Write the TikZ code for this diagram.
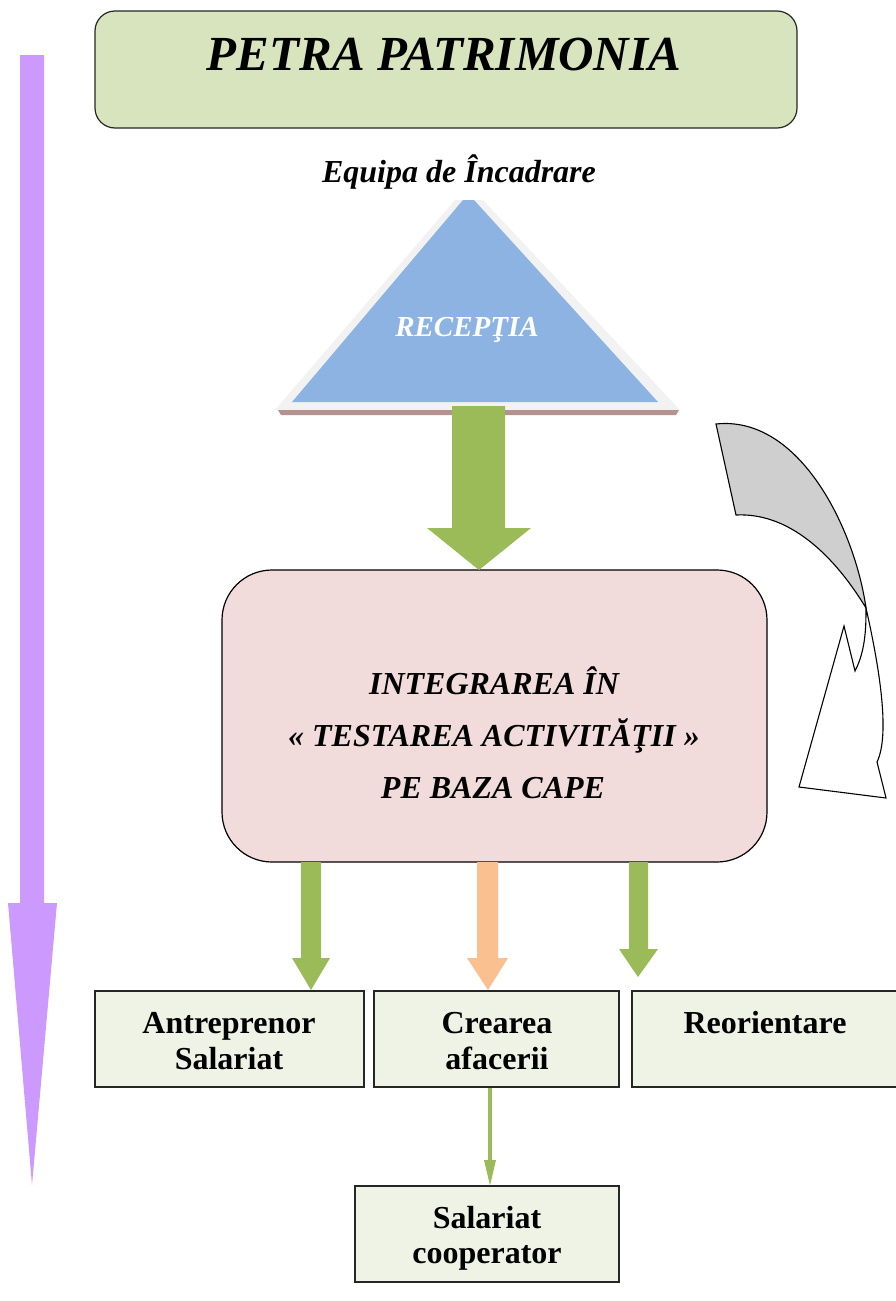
\documentclass[tikz,border=0pt]{standalone}
\usepackage{fontspec}
\setmainfont{Liberation Serif}
\definecolor{titlegreen}{HTML}{D7E4BD}
\definecolor{pinkbox}{HTML}{F2DCDB}
\definecolor{olive}{HTML}{9BBB59}
\definecolor{peach}{HTML}{FAC090}
\definecolor{lilac}{HTML}{CC99FF}
\definecolor{triblue}{HTML}{8DB3E2}
\definecolor{trigray}{HTML}{F2F2F2}
\definecolor{tribrown}{HTML}{B3928F}
\definecolor{boxfill}{HTML}{EFF3E5}
\definecolor{curvegray}{HTML}{CFCFCF}
\tikzset{
  outbox/.style={draw=black!85, line width=1.2pt, fill=boxfill, inner sep=0pt},
  boldtxt/.style={font=\bfseries\fontsize{32}{36}\selectfont, anchor=base, inner sep=0pt},
  itxt/.style={font=\bfseries\itshape\fontsize{32}{36}\selectfont, anchor=base, inner sep=0pt},
}
\begin{document}
\begin{tikzpicture}[x=1pt,y=-1pt]
\useasboundingbox (0,0) rectangle (895,1301);
% lilac time arrow
\fill[lilac] (20,55) -- (44,55) -- (44,903) -- (57,903) -- (32,1185) -- (8,903) -- (20,903) -- cycle;
% title
\node[draw=black!85, line width=1.2pt, fill=titlegreen, rounded corners=20pt, minimum width=702pt, minimum height=117pt, inner sep=0pt] (title) at (446,69.5) {};
\node[font=\bfseries\itshape\fontsize{49}{54}\selectfont, anchor=base, inner sep=0pt] (titletxt) at (444,70) {PETRA PATRIMONIA};
\node[font=\bfseries\itshape\fontsize{32}{36}\selectfont, anchor=base, inner sep=0pt] (equipa) at (459,182) {Equipa de Încadrare};
% triangle
\fill[trigray] (275,410) -- (455,200) -- (483,200) -- (680,410) -- cycle;
\fill[triblue] (292,402) -- (463,200) -- (474,200) -- (658,402) -- cycle;
\fill[tribrown] (278,410) -- (679,410) -- (676,415) -- (281,415) -- cycle;
\coordinate (tri) at (470,410);
\node[font=\bfseries\itshape\fontsize{29}{32}\selectfont, text=white, anchor=base, inner sep=0pt] (recep) at (467,336) {RECEPŢIA};
% pink box
\node[draw=black, line width=1.2pt, fill=pinkbox, rounded corners=50pt, minimum width=545pt, minimum height=292pt, inner sep=0pt] (pink) at (494.5,716) {};
\node[itxt] (p1) at (494,694) {INTEGRAREA ÎN};
\node[itxt] (p2) at (494,746) {« TESTAREA ACTIVITĂŢII »};
\node[itxt] (p3) at (493,798) {PE BAZA CAPE};
% big green arrow triangle -> pink
\fill[olive] (452,406) -- (505,406) -- (505,528) -- (531,528) -- (479,570) -- (427,528) -- (452,528) -- cycle;
% curved arrow on the right
\draw[line width=1.1pt, fill=curvegray] (716,424) .. controls (800,415) and (855,530) .. (866,608)
  .. controls (840,565) and (795,512) .. (736,515) -- cycle;
\draw[line width=1.1pt, fill=white] (866,608) .. controls (880,670) and (890,735) .. (877,762)
  -- (886,798) -- (799,787) -- (844,626) -- (855,671) .. controls (866,650) and (866,625) .. (866,608) -- cycle;
% bottom boxes
\node[outbox, minimum width=269pt, minimum height=96pt] (b1) at (229.5,1039) {};
\node[outbox, minimum width=245pt, minimum height=96pt] (b2) at (496.5,1039) {};
\node[outbox, minimum width=270pt, minimum height=96pt] (b3) at (767,1039) {};
\node[outbox, minimum width=264pt, minimum height=96pt] (b4) at (487,1234) {};
\node[boldtxt] (b1a) at (229,1033) {Antreprenor};
\node[boldtxt] (b1b) at (229,1069) {Salariat};
\node[boldtxt] (b2a) at (497,1033) {Crearea};
\node[boldtxt] (b2b) at (497,1069) {afacerii};
\node[boldtxt] (b3a) at (765,1033) {Reorientare};
\node[boldtxt] (b4a) at (487,1228) {Salariat};
\node[boldtxt] (b4b) at (487,1263) {cooperator};
% arrows from pink to boxes
\fill[olive] (301,862) -- (321,862) -- (321,958) -- (330,958) -- (311,990) -- (292,958) -- (301,958) -- cycle;
\fill[peach] (477,862) -- (498,862) -- (498,958) -- (508,958) -- (488,990) -- (467,958) -- (477,958) -- cycle;
\fill[olive] (629,862) -- (648,862) -- (648,949) -- (658,949) -- (638,977) -- (619,949) -- (629,949) -- cycle;
% thin arrow b2 -> b4
\draw[olive, line width=4pt] (490,1087.5) -- (490,1162);
\fill[olive] (484,1160) -- (496,1160) -- (490,1185.5) -- cycle;
\end{tikzpicture}
\end{document}
